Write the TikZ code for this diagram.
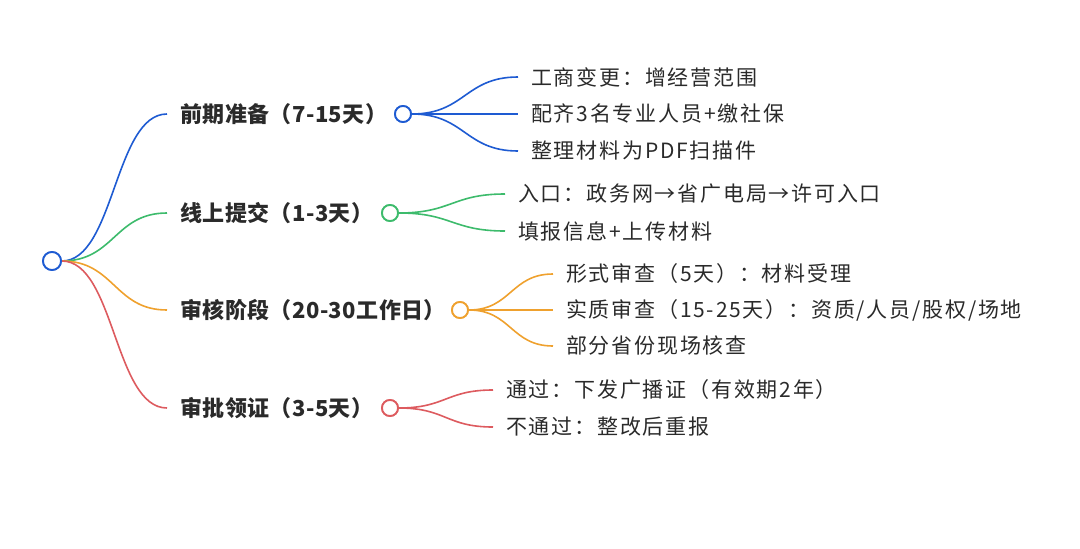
\documentclass[tikz,border=0pt]{standalone}
\usepackage{fontspec}
\setmainfont{Noto Sans CJK SC}
\newfontfamily\leaffont{Noto Sans CJK SC}[LetterSpace=8.5]
\newfontfamily\branchfont{Noto Sans CJK SC}[LetterSpace=2]
\usetikzlibrary{calc}
\definecolor{cblue}{HTML}{1E5BD2}
\definecolor{cgreen}{HTML}{3DBB6C}
\definecolor{corange}{HTML}{EFA12E}
\definecolor{cred}{HTML}{DD5B5F}
\definecolor{ctext}{HTML}{2A2A2A}
\tikzset{
  curve/.style={line width=1.6pt, to path={let \p1=(\tikztostart), \p2=(\tikztotarget), \n1={(\x1+\x2)/2} in .. controls (\n1,\y1) and (\n1,\y2) .. (\tikztotarget)}},
  dot/.style={circle, draw=#1, fill=white, line width=1.8pt, minimum size=16pt, inner sep=0pt},
  branchlabel/.style={anchor=west, inner xsep=13pt, inner ysep=0pt, text=ctext, font=\fontsize{22}{26}\branchfont\bfseries},
  leaf/.style={anchor=west, inner xsep=13pt, inner ysep=0pt, text=ctext, font=\fontsize{21}{25}\leaffont},
}
\begin{document}
\begin{tikzpicture}[x=1pt,y=-1pt]
\useasboundingbox (0,0) rectangle (1080,549);
% root
\node[dot=cblue, minimum size=18pt] (root) at (52,261) {};
% branches
\node[branchlabel] (b1) at (167,114) {前期准备（7-15天）};
\node[branchlabel] (b2) at (167,213) {线上提交（1-3天）};
\node[branchlabel] (b3) at (167,310) {审核阶段（20-30工作日）};
\node[branchlabel] (b4) at (167,408) {审批领证（3-5天）};
\draw[curve, cblue] (root.east) to (b1.west);
\draw[curve, cgreen] (root.east) to (b2.west);
\draw[curve, corange] (root.east) to (b3.west);
\draw[curve, cred] (root.east) to (b4.west);
\node[dot=cblue, minimum size=18pt] at (root) {};
% sub dots
\node[dot=cblue] (d1) at (403,114) {};
\node[dot=cgreen] (d2) at (390,213) {};
\node[dot=corange] (d3) at (460,310) {};
\node[dot=cred] (d4) at (390,408) {};
% leaves blue
\node[leaf] (l11) at (518,77) {工商变更：增经营范围};
\node[leaf] (l12) at (518,114) {配齐3名专业人员+缴社保};
\node[leaf] (l13) at (518,151) {整理材料为PDF扫描件};
\foreach \k in {l11,l12,l13} \draw[curve, cblue] (d1.east) to (\k.west);
% green
\node[leaf] (l21) at (505,194) {入口：政务网→省广电局→许可入口};
\node[leaf] (l22) at (505,231) {填报信息+上传材料};
\foreach \k in {l21,l22} \draw[curve, cgreen] (d2.east) to (\k.west);
% orange
\node[leaf] (l31) at (553,274) {形式审查（5天）：材料受理};
\node[leaf] (l32) at (553,310) {实质审查（15-25天）：资质/人员/股权/场地};
\node[leaf] (l33) at (553,346) {部分省份现场核查};
\foreach \k in {l31,l32,l33} \draw[curve, corange] (d3.east) to (\k.west);
% red
\node[leaf] (l41) at (493,390) {通过：下发广播证（有效期2年）};
\node[leaf] (l42) at (493,427) {不通过：整改后重报};
\foreach \k in {l41,l42} \draw[curve, cred] (d4.east) to (\k.west);
% redraw dots on top
\node[dot=cblue] at (d1) {};
\node[dot=cgreen] at (d2) {};
\node[dot=corange] at (d3) {};
\node[dot=cred] at (d4) {};
\end{tikzpicture}
\end{document}
